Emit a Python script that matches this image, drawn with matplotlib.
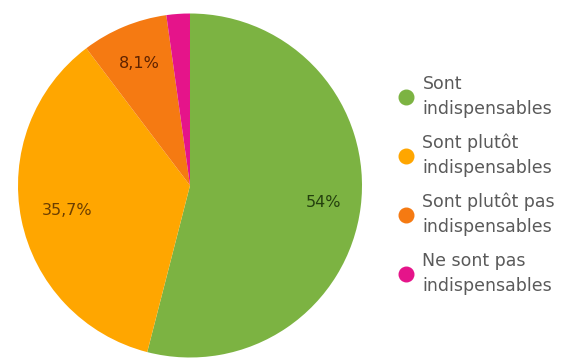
import matplotlib
matplotlib.use("Agg")
import matplotlib.pyplot as plt
from matplotlib.lines import Line2D
import numpy as np

categories = ["Sont\nindispensables", "Sont plutôt\nindispensables",
              "Sont plutôt pas\nindispensables", "Ne sont pas\nindispensables"]
values = [54.0, 35.7, 8.1, 2.2]
pct_labels = ["54%", "35,7%", "8,1%", ""]
colors = ["#7cb342", "#ffa600", "#f57a12", "#e5148a"]
text_colors = ["#24400e", "#6b3e00", "#5e2200", "#5a0030"]

fig = plt.figure(figsize=(5.65, 3.6), dpi=100)
ax = fig.add_axes([18/565, 2.5/360, 344/565, 344/360])
wedges, _ = ax.pie(values, colors=colors, startangle=90, counterclock=False,
                   radius=1.0, wedgeprops=dict(linewidth=0))
for w, lab, tc, d in zip(wedges, pct_labels, text_colors, [0.78, 0.73, 0.77, 0.8]):
    ang = np.deg2rad((w.theta1 + w.theta2) / 2)
    ax.text(d*np.cos(ang), d*np.sin(ang), lab, ha="center", va="center",
            fontsize=11.5, color=tc)
ax.set_xlim(-1, 1)
ax.set_ylim(-1, 1)

handles = [Line2D([], [], marker="o", linestyle="", markersize=10.5,
                  markerfacecolor=c, markeredgecolor=c) for c in colors]
leg = fig.legend(handles, categories, loc="upper left",
                 bbox_to_anchor=(399/565, 1 - 75/360), frameon=False,
                 fontsize=12.5, handletextpad=0.55, labelspacing=0.92,
                 handlelength=0.8, borderaxespad=0, borderpad=0)
for t in leg.get_texts():
    t.set_color("#5a5a5a")
    t.set_linespacing(1.48)
fig.savefig("out.png", dpi=100)
